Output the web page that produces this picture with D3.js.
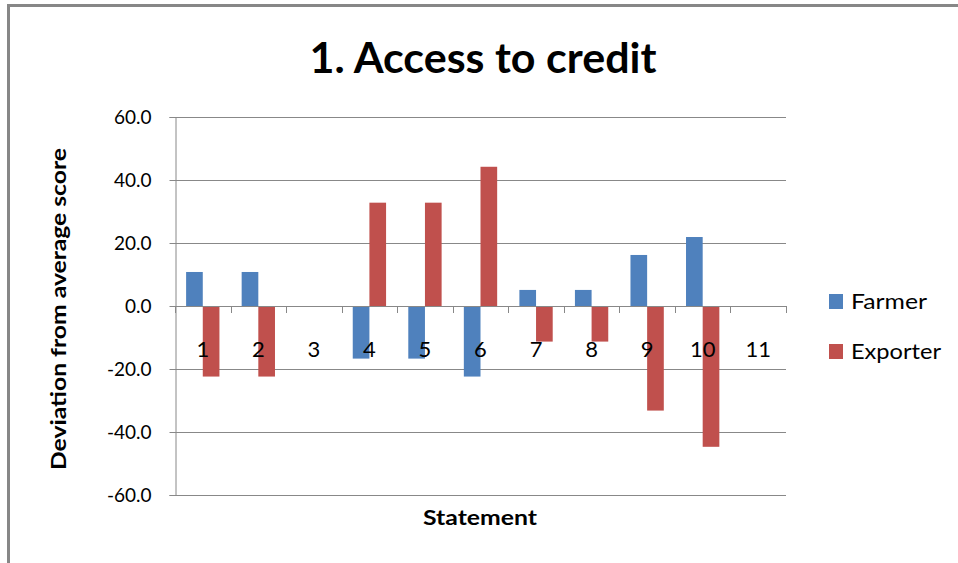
<!DOCTYPE html>
<head>
  <meta charset="utf-8">
  <script src="https://cdn.jsdelivr.net/npm/d3@7"></script>
  <style>
    body { margin: 0; background: #fff; }
    svg text { font-family: Lato, "Open Sans", sans-serif; fill: #000; }
    .grid line { stroke: #888; stroke-width: 1px; shape-rendering: crispEdges; }
  </style>
</head>
<body>
<script>
// chart data
var statements = ['1','2','3','4','5','6','7','8','9','10','11'];
var seriesNames = ['Farmer', 'Exporter'];
var farmer   = [10.8, 10.8, 0, -16.7, -16.7, -22.4, 5.1, 5.1, 16.2, 21.9, 0];
var exporter = [-22.4, -22.4, 0, 32.8, 32.8, 44.2, -11.3, -11.3, -33.2, -44.7, 0];
var yTicks = [-60, -40, -20, 0, 20, 40, 60];
var colors = ['#4F81BD', '#C0504D'];

var width = 958, height = 563;

var svg = d3.select('body').append('svg')
  .attr('width', width)
  .attr('height', height);

// outer chart frame (cut off at right / bottom)
svg.append('rect')
  .attr('x', 8.5).attr('y', 5.5)
  .attr('width', 1000).attr('height', 1000)
  .style('fill', 'none')
  .style('stroke', '#878787')
  .style('stroke-width', 3);

var x = d3.scaleBand()
  .domain(statements)
  .range([175, 786])
  .paddingInner(0.4)
  .paddingOuter(0.2);

var x1 = d3.scaleBand()
  .domain(seriesNames)
  .range([0, x.bandwidth()]);

var y = d3.scaleLinear()
  .domain([-60, 60])
  .range([495, 117]);

// gridlines
var grid = svg.append('g').attr('class', 'grid');
grid.selectAll('line')
  .data(yTicks)
  .enter().append('line')
  .attr('x1', 175).attr('x2', 786)
  .attr('y1', d => Math.round(y(d)) + 0.5)
  .attr('y2', d => Math.round(y(d)) + 0.5);

// y axis
var yAxis = svg.append('g')
  .attr('transform', 'translate(175.5,0)')
  .call(d3.axisLeft(y).tickValues(yTicks).tickSize(6).tickPadding(18)
    .tickFormat(d => d.toFixed(1)));
yAxis.select('.domain').attr('stroke', '#888');
yAxis.selectAll('.tick line').attr('stroke', '#888');
yAxis.selectAll('.tick text')
  .style('font-size', '19px')
  .attr('fill', '#000');

// bars
var rows = statements.map(function(s, i) {
  return { statement: s, values: [farmer[i], exporter[i]] };
});

var groups = svg.selectAll('.group')
  .data(rows)
  .enter().append('g')
  .attr('class', 'group')
  .attr('transform', d => 'translate(' + x(d.statement) + ',0)');

groups.selectAll('rect')
  .data(d => d.values.map((v, j) => ({ name: seriesNames[j], value: v, c: colors[j] })))
  .enter().append('rect')
  .attr('x', d => x1(d.name))
  .attr('width', x1.bandwidth())
  .attr('y', d => y(Math.max(0, d.value)))
  .attr('height', d => Math.abs(y(d.value) - y(0)))
  .style('fill', d => d.c);

// x axis at zero with ticks at band boundaries
var step = x.step();
var boundaries = d3.range(statements.length + 1).map(i => 175 + i * step);
svg.append('line')
  .attr('x1', 175).attr('x2', 786)
  .attr('y1', Math.round(y(0)) + 0.5).attr('y2', Math.round(y(0)) + 0.5)
  .style('stroke', '#888');
svg.selectAll('.xtick')
  .data(boundaries)
  .enter().append('line')
  .attr('class', 'xtick')
  .attr('x1', d => Math.round(d) + 0.5).attr('x2', d => Math.round(d) + 0.5)
  .attr('y1', y(0)).attr('y2', y(0) + 7)
  .style('stroke', '#888');

svg.selectAll('.xlabel')
  .data(statements)
  .enter().append('text')
  .attr('class', 'xlabel')
  .attr('x', d => x(d) + x.bandwidth() / 2)
  .attr('y', 357)
  .attr('text-anchor', 'middle')
  .style('font-size', '22px')
  .text(d => d);

// title
svg.append('text')
  .attr('x', 483).attr('y', 73)
  .attr('text-anchor', 'middle')
  .attr('textLength', 347)
  .attr('lengthAdjust', 'spacingAndGlyphs')
  .style('font-size', '42px')
  .style('font-weight', 'bold')
  .text('1. Access to credit');

// axis titles
svg.append('text')
  .attr('transform', 'translate(66,309) rotate(-90)')
  .attr('text-anchor', 'middle')
  .attr('textLength', 322)
  .attr('lengthAdjust', 'spacingAndGlyphs')
  .style('font-size', '21px')
  .style('font-weight', 'bold')
  .text('Deviation from average score');

svg.append('text')
  .attr('x', 480).attr('y', 525)
  .attr('text-anchor', 'middle')
  .attr('textLength', 114)
  .attr('lengthAdjust', 'spacingAndGlyphs')
  .style('font-size', '21px')
  .style('font-weight', 'bold')
  .text('Statement');

// legend
var legend = svg.selectAll('.legend')
  .data(seriesNames)
  .enter().append('g')
  .attr('class', 'legend')
  .attr('transform', (d, i) => 'translate(829,' + (294 + i * 50) + ')');
legend.append('rect')
  .attr('width', 14).attr('height', 15)
  .style('fill', (d, i) => colors[i]);
legend.append('text')
  .attr('x', 22).attr('y', 15)
  .attr('textLength', (d, i) => [76, 90][i])
  .attr('lengthAdjust', 'spacingAndGlyphs')
  .style('font-size', '21px')
  .text(d => d);
</script>
</body>
